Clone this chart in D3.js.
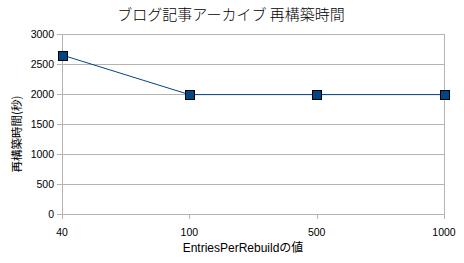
<!DOCTYPE html>
<html>
<head>
<meta charset="utf-8">
<script src="https://cdn.jsdelivr.net/npm/d3@7"></script>
<style>
  body { margin: 0; background: #fff; }
  text { font-family: "Liberation Sans", Arial, "Noto Sans CJK JP", sans-serif; fill: #000; }
  .jp { font-family: "Noto Sans CJK JP", sans-serif; }
</style>
</head>
<body>
<div id="vis"></div>
<script>
// chart data
var categories = ['40', '100', '500', '1000'];
var rebuildSeconds = [2650, 1990, 1990, 1990];
var yTicks = [0, 500, 1000, 1500, 2000, 2500, 3000];

var width = 464;
var height = 263;
var margin = { top: 34, left: 62, bottom: 49, right: 20 };

var svg = d3.select('#vis').append('svg')
  .attr('width', width)
  .attr('height', height);

var xScale = d3.scalePoint()
  .domain(categories)
  .range([margin.left, width - margin.right])
  .padding(0);

var yScale = d3.scaleLinear()
  .domain([0, 3000])
  .range([height - margin.bottom, margin.top]);

// gridlines
svg.append('g')
  .selectAll('line')
  .data(yTicks)
  .enter().append('line')
  .attr('x1', margin.left - 5)
  .attr('x2', width - margin.right)
  .attr('y1', function(d) { return Math.round(yScale(d)) + 0.5; })
  .attr('y2', function(d) { return Math.round(yScale(d)) + 0.5; })
  .attr('stroke', '#b3b3b3');

// left and right frame lines
[margin.left, width - margin.right].forEach(function(x) {
  svg.append('line')
    .attr('x1', x + 0.5).attr('x2', x + 0.5)
    .attr('y1', margin.top).attr('y2', height - margin.bottom + 1)
    .attr('stroke', '#b3b3b3');
});

// x ticks
svg.append('g')
  .selectAll('line')
  .data(categories)
  .enter().append('line')
  .attr('x1', function(d) { return Math.round(xScale(d)) + 0.5; })
  .attr('x2', function(d) { return Math.round(xScale(d)) + 0.5; })
  .attr('y1', height - margin.bottom)
  .attr('y2', height - margin.bottom + 5)
  .attr('stroke', '#b3b3b3');

// y tick labels
svg.append('g')
  .selectAll('text')
  .data(yTicks)
  .enter().append('text')
  .attr('x', margin.left - 8)
  .attr('y', function(d) { return yScale(d); })
  .attr('dy', '0.35em')
  .attr('text-anchor', 'end')
  .style('font-size', '10.5px')
  .text(function(d) { return d; });

// x tick labels
svg.append('g')
  .selectAll('text')
  .data(categories)
  .enter().append('text')
  .attr('x', function(d) { return xScale(d); })
  .attr('y', height - margin.bottom + 22)
  .attr('text-anchor', 'middle')
  .style('font-size', '10.5px')
  .text(function(d) { return d; });

// line
var line = d3.line()
  .x(function(d, i) { return xScale(categories[i]); })
  .y(function(d) { return yScale(d); });

svg.append('path')
  .datum(rebuildSeconds)
  .attr('d', line)
  .attr('fill', 'none')
  .attr('stroke', '#004586')
  .attr('stroke-width', 1);

// markers
var ms = 9;
svg.append('g')
  .selectAll('rect')
  .data(rebuildSeconds)
  .enter().append('rect')
  .attr('x', function(d, i) { return Math.round(xScale(categories[i]) - ms / 2) + 0.5; })
  .attr('y', function(d) { return Math.round(yScale(d) - ms / 2) + 0.5; })
  .attr('width', ms)
  .attr('height', ms)
  .attr('fill', '#004586')
  .attr('stroke', '#000')
  .attr('stroke-width', 1);

// title
svg.append('text')
  .attr('class', 'jp')
  .attr('x', 231)
  .attr('y', 20)
  .attr('text-anchor', 'middle')
  .style('font-size', '15px')
  .style('font-weight', 300)
  .text('ブログ記事アーカイブ 再構築時間');

// axis titles
svg.append('text')
  .attr('x', 243)
  .attr('y', 252)
  .attr('text-anchor', 'middle')
  .style('font-size', '12px')
  .text('EntriesPerRebuildの値');

svg.append('text')
  .attr('class', 'jp')
  .attr('transform', 'translate(21,134) rotate(-90)')
  .attr('text-anchor', 'middle')
  .style('font-size', '11.5px')
  .text('再構築時間(秒)');
</script>
</body>
</html>
